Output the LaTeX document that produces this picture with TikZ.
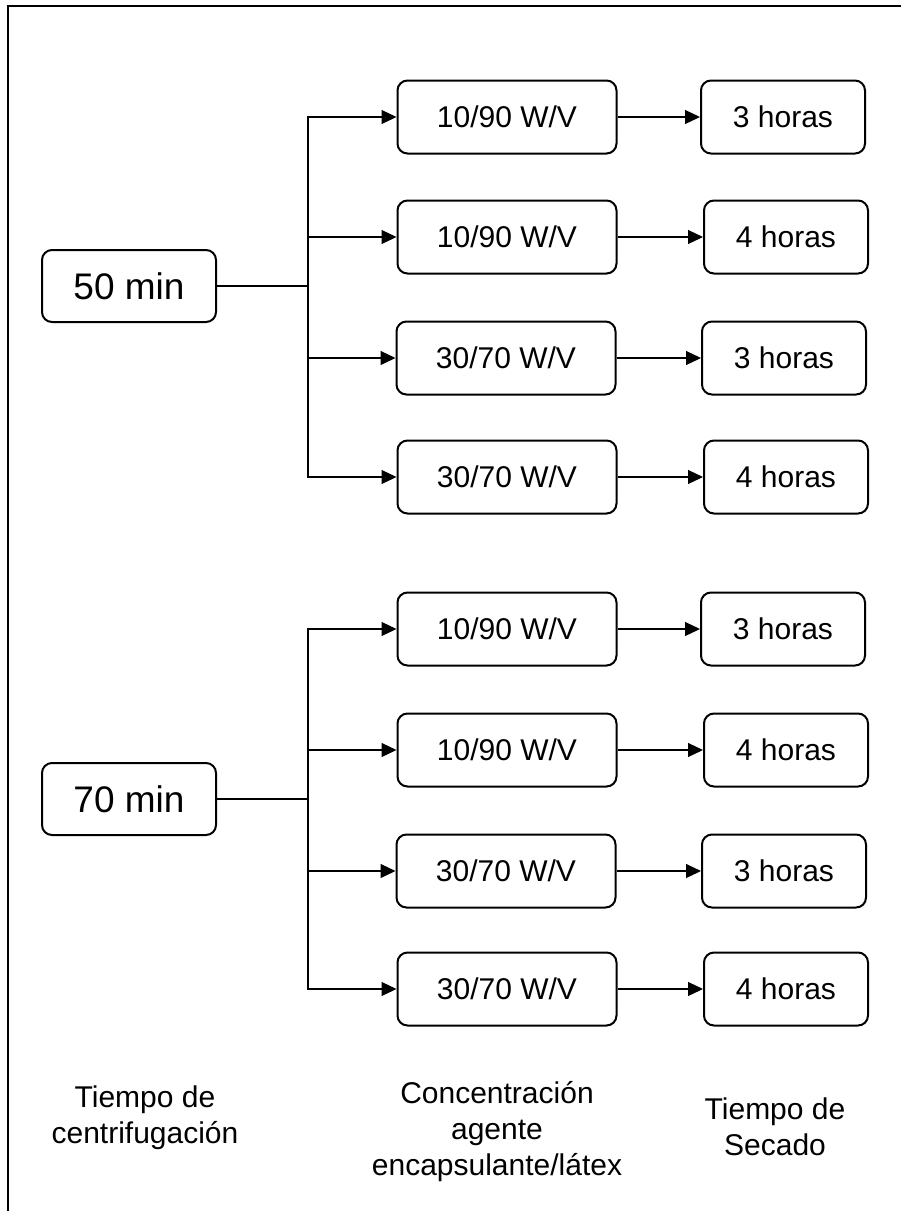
\documentclass[tikz,border=0pt]{standalone}
\usepackage{fontspec}
\setmainfont{Liberation Sans}
\usetikzlibrary{arrows.meta, positioning}

\begin{document}
\begin{tikzpicture}[
    x=1pt, y=-1pt, % pixel-like units, y grows downwards
    timebox/.style={rectangle, rounded corners=10pt, draw, line width=2pt, minimum width=174pt, minimum height=72pt, font=\fontsize{37}{44}\selectfont},
    concbox/.style={rectangle, rounded corners=10pt, draw, line width=2pt, minimum width=219pt, minimum height=73pt, font=\fontsize{30}{36}\selectfont},
    drybox/.style={rectangle, rounded corners=10pt, draw, line width=2pt, minimum width=164pt, minimum height=73pt, font=\fontsize{30}{36}\selectfont},
    conn/.style={-{Triangle[length=15pt, width=14pt]}, line width=1.2pt},
    caption/.style={align=center, anchor=base, font=\fontsize{30}{36}\selectfont}
]
    \useasboundingbox (0,0) rectangle (901,1211);

    % Frame (top and left only)
    \draw [line width=2pt] (8,1211) -- (8,6) -- (901,6);

    % Centrifugation time
    \node (t50) [timebox] at (129,286) {50 min};
    \node (t70) [timebox] at (129,799) {70 min};

    % Encapsulating agent concentration
    \node (c1) [concbox] at (507,117) {10/90 W/V};
    \node (c2) [concbox] at (507,237) {10/90 W/V};
    \node (c3) [concbox] at (506,358) {30/70 W/V};
    \node (c4) [concbox] at (507,477) {30/70 W/V};
    \node (c5) [concbox] at (507,629) {10/90 W/V};
    \node (c6) [concbox] at (507,750) {10/90 W/V};
    \node (c7) [concbox] at (506,871) {30/70 W/V};
    \node (c8) [concbox] at (507,989) {30/70 W/V};

    % Drying time
    \node (d1) [drybox] at (783,117) {3 horas};
    \node (d2) [drybox] at (786,237) {4 horas};
    \node (d3) [drybox] at (784,358) {3 horas};
    \node (d4) [drybox] at (786,477) {4 horas};
    \node (d5) [drybox] at (783,629) {3 horas};
    \node (d6) [drybox] at (786,750) {4 horas};
    \node (d7) [drybox] at (784,871) {3 horas};
    \node (d8) [drybox] at (786,989) {4 horas};

    % Branches
    \draw [conn] (t50.east) -- ++(91,0) |- (c1.west);
    \draw [conn] (t50.east) -- ++(91,0) |- (c2.west);
    \draw [conn] (t50.east) -- ++(91,0) |- (c3.west);
    \draw [conn] (t50.east) -- ++(91,0) |- (c4.west);
    \draw [conn] (t70.east) -- ++(91,0) |- (c5.west);
    \draw [conn] (t70.east) -- ++(91,0) |- (c6.west);
    \draw [conn] (t70.east) -- ++(91,0) |- (c7.west);
    \draw [conn] (t70.east) -- ++(91,0) |- (c8.west);

    \draw [conn] (c1.east) -- (d1.west);
    \draw [conn] (c2.east) -- (d2.west);
    \draw [conn] (c3.east) -- (d3.west);
    \draw [conn] (c4.east) -- (d4.west);
    \draw [conn] (c5.east) -- (d5.west);
    \draw [conn] (c6.east) -- (d6.west);
    \draw [conn] (c7.east) -- (d7.west);
    \draw [conn] (c8.east) -- (d8.west);

    % Column captions (base = last line)
    \node (lbl_time) [caption] at (145,1143) {Tiempo de\\centrifugación};
    \node (lbl_conc) [caption] at (497,1175) {Concentración\\agente\\encapsulante/látex};
    \node (lbl_dry) [caption] at (775,1155) {Tiempo de\\Secado};

\end{tikzpicture}
\end{document}
